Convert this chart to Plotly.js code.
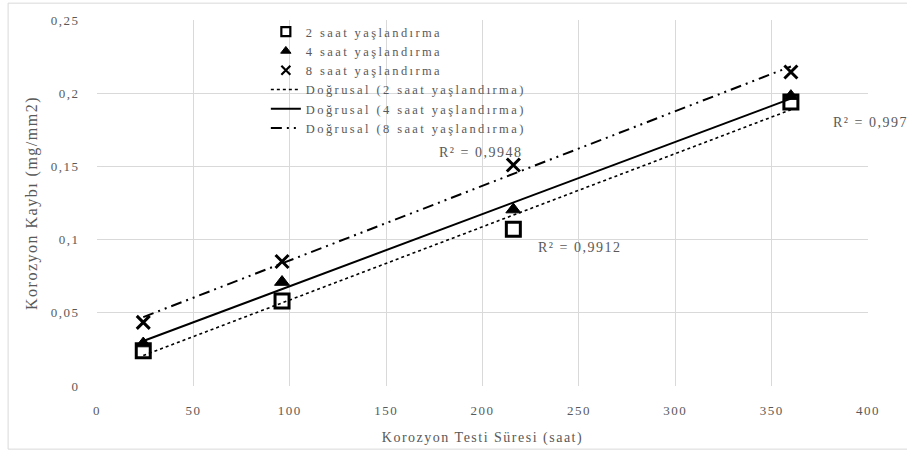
<!DOCTYPE html>
<html>
<head>
<meta charset="utf-8">
<script src="https://cdn.plot.ly/plotly-3.0.1.min.js"></script>
<style>
html,body{margin:0;padding:0;background:#fff;}
#chart{width:907px;height:457px;}
text{letter-spacing:1.5px;}
text.legendtext{letter-spacing:2.4px;}
</style>
</head>
<body>
<div id="chart"></div>
<script>
// Data
const hours = [24, 96, 216, 360];
const loss2h = [0.024, 0.058, 0.107, 0.194];
const loss4h = [0.029, 0.071, 0.1205, 0.198];
const loss8h = [0.0435, 0.085, 0.151, 0.2145];
const seriesNames = ['2 saat yaşlandırma', '4 saat yaşlandırma', '8 saat yaşlandırma'];
const trendNames = ['Doğrusal (2 saat yaşlandırma)', 'Doğrusal (4 saat yaşlandırma)', 'Doğrusal (8 saat yaşlandırma)'];
const r2Labels = ['R² = 0,9912', 'R² = 0,997', 'R² = 0,9948'];
const xTitle = 'Korozyon Testi Süresi (saat)';
const yTitle = 'Korozyon Kaybı (mg/mm2)';

function linfit(x, y) {
  const n = x.length;
  const mx = x.reduce((a, b) => a + b, 0) / n;
  const my = y.reduce((a, b) => a + b, 0) / n;
  let sxy = 0, sxx = 0;
  for (let i = 0; i < n; i++) { sxy += (x[i] - mx) * (y[i] - my); sxx += (x[i] - mx) ** 2; }
  const b = sxy / sxx, a = my - b * mx;
  const xs = [Math.min(...x), Math.max(...x)];
  return { x: xs, y: xs.map(v => a + b * v) };
}

const FONT = 'Liberation Serif, Times New Roman, serif';
const GREY = '#595959';
const ys = [loss2h, loss4h, loss8h];
const markerSyms = ['square-open', 'triangle-up', 'x-thin-open'];
const markerSizes = [14, 13, 13];
const legendSizes = [9, 9, 9];
const markerLines = [3, 1, 3];
const lineDash = ['dot', 'solid', '11px,5px,2px,5px,2px,5px'];
const lineWidth = [1.6, 2, 2];

const traces = [];
for (let i = 0; i < 3; i++) {
  const f = linfit(hours, ys[i]);
  traces.push({
    x: f.x, y: f.y, type: 'scatter', mode: 'lines', name: trendNames[i], showlegend: false,
    line: { color: '#000', width: lineWidth[i], dash: lineDash[i] }
  });
}
for (let i = 0; i < 3; i++) {
  traces.push({
    x: hours, y: ys[i], type: 'scatter', mode: 'markers', name: seriesNames[i], showlegend: false,
    marker: { symbol: markerSyms[i], size: markerSizes[i], color: '#000', line: { color: '#000', width: markerLines[i] } },
    cliponaxis: false
  });
}
// legend entries (smaller legend symbols, as in the reference)
for (let i = 0; i < 3; i++) {
  traces.push({
    x: [null], y: [null], type: 'scatter', mode: 'markers', name: seriesNames[i],
    marker: { symbol: markerSyms[i], size: legendSizes[i], color: '#000', line: { color: '#000', width: markerLines[i] === 1 ? 1 : 2.2 } }
  });
}
for (let i = 0; i < 3; i++) {
  traces.push({
    x: [null], y: [null], type: 'scatter', mode: 'lines', name: trendNames[i],
    line: { color: '#000', width: lineWidth[i], dash: lineDash[i] }
  });
}

const layout = {
  width: 907, height: 457,
  margin: { l: 97, r: 39, t: 20, b: 71 },
  paper_bgcolor: '#fff', plot_bgcolor: '#fff',
  separators: ',.',
  font: { family: FONT, color: GREY, size: 13 },
  showlegend: true,
  legend: {
    x: 0.219, y: 1.008, xanchor: 'left', yanchor: 'top',
    bgcolor: 'rgba(0,0,0,0)', font: { family: FONT, size: 12.5, color: GREY },
    tracegroupgap: 0, itemsizing: 'trace'
  },
  xaxis: {
    range: [0, 400], dtick: 50, tick0: 0, showgrid: true, gridcolor: '#d9d9d9', gridwidth: 1,
    zeroline: false, showline: false, ticks: 'outside', ticklen: 12, tickcolor: 'rgba(0,0,0,0)',
    tickfont: { family: FONT, size: 13, color: GREY },
    title: { text: xTitle, font: { family: FONT, size: 14, color: GREY }, standoff: 15 }
  },
  yaxis: {
    range: [0, 0.25], dtick: 0.05, tick0: 0, showgrid: true, gridcolor: '#d9d9d9', gridwidth: 1,
    zeroline: false, showline: false, ticks: 'outside', ticklen: 14, tickcolor: 'rgba(0,0,0,0)',
    tickfont: { family: FONT, size: 13, color: GREY },
    title: { text: yTitle, font: { family: FONT, size: 16, color: GREY }, standoff: 9 }
  },
  shapes: [{
    type: 'rect', xref: 'paper', yref: 'paper', x0: -0.1153, x1: 1.2, y0: -0.1725, y1: 1.046,
    line: { color: '#d9d9d9', width: 1 }, fillcolor: 'rgba(0,0,0,0)', layer: 'below'
  }],
  annotations: [
    { x: 228, y: 0.0947, xref: 'x', yref: 'y', text: r2Labels[0], showarrow: false, xanchor: 'left', font: { family: FONT, size: 14, color: GREY } },
    { x: 381, y: 0.1797, xref: 'x', yref: 'y', text: r2Labels[1], showarrow: false, xanchor: 'left', font: { family: FONT, size: 14, color: GREY } },
    { x: 199, y: 0.1594, xref: 'x', yref: 'y', text: r2Labels[2], showarrow: false, xanchor: 'center', font: { family: FONT, size: 14, color: GREY } }
  ]
};

Plotly.newPlot('chart', traces, layout, { staticPlot: true, displayModeBar: false });
</script>
</body>
</html>
